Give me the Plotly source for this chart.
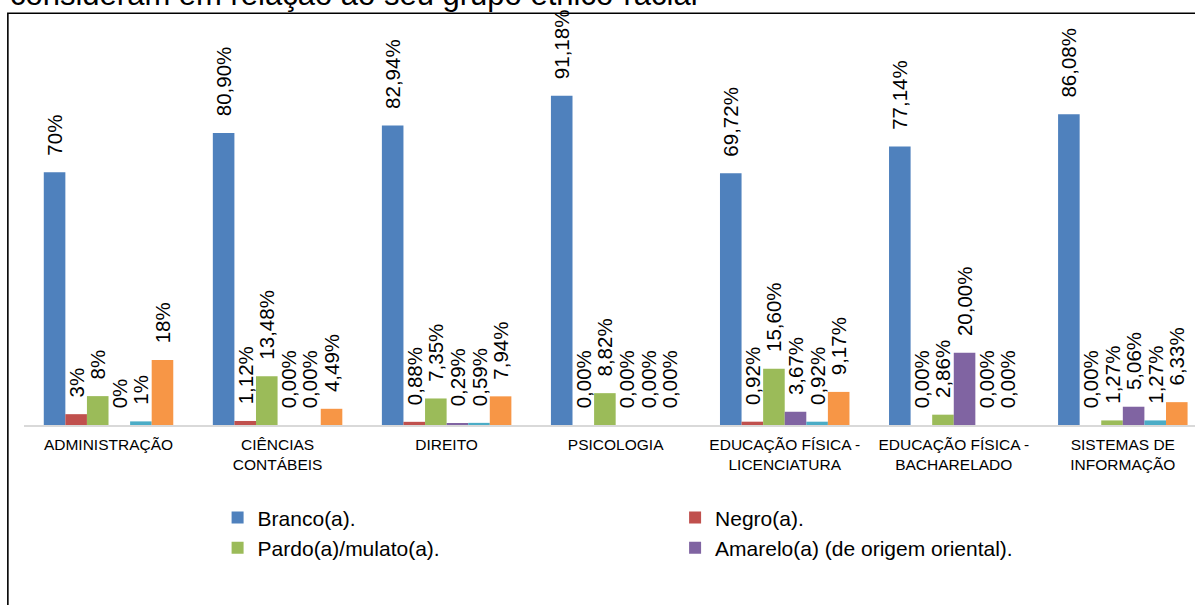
import plotly.graph_objects as go

# Courses (x categories) and the share of students in each self-declared group
categories = [
    "ADMINISTRAÇÃO",
    "CIÊNCIAS<br>CONTÁBEIS",
    "DIREITO",
    "PSICOLOGIA",
    "EDUCAÇÃO FÍSICA -<br>LICENCIATURA",
    "EDUCAÇÃO FÍSICA -<br>BACHARELADO",
    "SISTEMAS DE<br>INFORMAÇÃO",
]
branco = [70, 80.90, 82.94, 91.18, 69.72, 77.14, 86.08]
negro = [3, 1.12, 0.88, 0.00, 0.92, 0.00, 0.00]
pardo = [8, 13.48, 7.35, 8.82, 15.60, 2.86, 1.27]
amarelo = [0, 0.00, 0.29, 0.00, 3.67, 20.00, 5.06]
indigena = [1, 0.00, 0.59, 0.00, 0.92, 0.00, 1.27]
nao_declarado = [18, 4.49, 7.94, 0.00, 9.17, 0.00, 6.33]
# decimals shown in the value labels of each course
label_decimals = [0, 2, 2, 2, 2, 2, 2]

series = [
    ("Branco(a).", branco, "#4F81BD", True),
    ("Negro(a).", negro, "#C0504D", True),
    ("Pardo(a)/mulato(a).", pardo, "#9BBB59", True),
    ("Amarelo(a) (de origem oriental).", amarelo, "#8064A2", True),
    ("Indígena.", indigena, "#4BACC6", False),
    ("Não declarado.", nao_declarado, "#F79646", False),
]

FONT = "Liberation Sans, Arial, sans-serif"
W, H = 1195, 605
M_L, M_R, M_B = 23.65, 0, 180
PLOT_H = 361.4
M_T = H - M_B - PLOT_H
CAT_PX = 169.1
PLOT_W = W - M_L - M_R


def paper_x(px):
    return (px - M_L) / PLOT_W


def paper_y(py):
    return (H - M_B - py) / PLOT_H


def fmt(v, d):
    return f"{v:.{d}f}%".replace(".", ",")


fig = go.Figure()
for name, vals, color, in_legend in series:
    labels = ["\u2004\u2004" + fmt(v, d) for v, d in zip(vals, label_decimals)]
    fig.add_trace(go.Bar(
        x=categories, y=vals, name=name,
        marker=dict(color=color, line=dict(width=0)),
        text=labels, textposition="outside", textangle=-90,
        textfont=dict(family=FONT, size=20.5, color="#000000"),
        constraintext="none", cliponaxis=False,
        showlegend=in_legend, hoverinfo="skip",
    ))

# caption line above the chart frame
fig.add_annotation(
    text="consideram em relação ao seu grupo étnico-racial",
    xref="paper", yref="paper",
    x=paper_x(8), y=paper_y(5.8 + 0.212 * 31 + 1),
    xanchor="left", yanchor="bottom", showarrow=False, borderpad=1,
    font=dict(family=FONT, size=31, color="#000000"),
)

# chart area border
fig.add_shape(
    type="rect", xref="paper", yref="paper",
    x0=paper_x(7.5), y0=paper_y(12.8), x1=paper_x(W + 20), y1=paper_y(H + 20),
    line=dict(color="#000000", width=1.6), fillcolor="rgba(0,0,0,0)",
    layer="above",
)

fig.update_layout(
    width=W, height=H,
    margin=dict(l=M_L, r=M_R, t=M_T, b=M_B, autoexpand=False),
    paper_bgcolor="white", plot_bgcolor="white",
    barmode="group", bargap=0.234, bargroupgap=0,
    font=dict(family=FONT, color="#000000"),
    legend=dict(
        orientation="h", x=paper_x(217.3), xanchor="left",
        y=paper_y(497.5), yanchor="top",
        entrywidth=412.5, entrywidthmode="pixels",
        font=dict(family=FONT, size=21, color="#000000"),
        bgcolor="rgba(0,0,0,0)", borderwidth=0,
        traceorder="normal",
    ),
    xaxis=dict(
        range=[-0.5, -0.5 + PLOT_W / CAT_PX],
        showline=True, linecolor="#D9D9D9", linewidth=2,
        ticks="", showgrid=False, zeroline=False,
        tickfont=dict(family=FONT, size=15.5, color="#000000"),
        tickangle=0, ticklabelstandoff=4,
    ),
    yaxis=dict(range=[0, 100], visible=False, showgrid=False, zeroline=False),
)

fig.write_html("out.html")
